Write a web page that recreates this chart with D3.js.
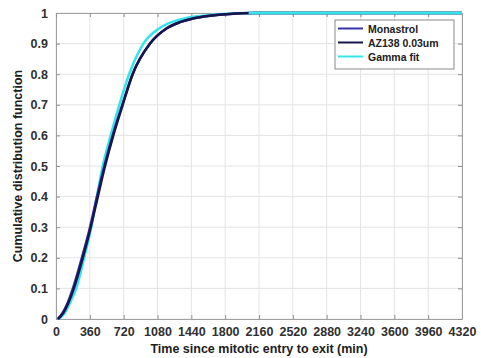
<!DOCTYPE html>
<html>
<head>
<meta charset="utf-8">
<script src="https://cdn.jsdelivr.net/npm/d3@7"></script>
<style>
  html, body { margin: 0; padding: 0; background: #fff; }
  svg { display: block; font-family: "Liberation Sans", Arial, sans-serif; }
</style>
</head>
<body>
<svg id="chart" width="481" height="358"></svg>
<script>
// Time since mitotic entry (min) at which each CDF level is reached
const cdfLevels   = [0, 0.02, 0.05, 0.1, 0.2, 0.3, 0.4, 0.5, 0.6, 0.7, 0.8, 0.9, 0.95, 0.97, 0.983, 0.991, 0.997, 1, 1];
const monastrolT  = [18, 70, 120, 180, 275, 362, 436, 514, 603, 705, 814, 1000, 1178, 1318, 1468, 1638, 1850, 2100, 4320];
const az138T      = [22, 78, 128, 190, 285, 370, 445, 522, 610, 710, 816, 1001, 1180, 1320, 1470, 1640, 1850, 2100, 4320];
const gammaT      = [30, 95, 145, 215, 300, 375, 435, 497, 582, 674, 778, 930, 1100, 1230, 1380, 1560, 1780, 2050, 4320];

const seriesNames  = ["Monastrol", "AZ138 0.03um", "Gamma fit"];
const seriesColors = ["#3434a8", "#16164a", "#34e4ea"];
const xTicks = [0, 360, 720, 1080, 1440, 1800, 2160, 2520, 2880, 3240, 3600, 3960, 4320];
const yTicks = [0, 0.1, 0.2, 0.3, 0.4, 0.5, 0.6, 0.7, 0.8, 0.9, 1];

const svg = d3.select("#chart");
const m = { left: 56, right: 462, top: 13, bottom: 319 };

const x = d3.scaleLinear().domain([0, 4320]).range([m.left, m.right]);
const y = d3.scaleLinear().domain([0, 1]).range([m.bottom, m.top]);

// grid
const grid = svg.append("g");
grid.selectAll("line.vx").data(xTicks).join("line")
  .attr("x1", d => x(d)).attr("x2", d => x(d))
  .attr("y1", m.top).attr("y2", m.bottom)
  .attr("stroke", "#e4e4e4").attr("stroke-width", 1);
grid.selectAll("line.hy").data(yTicks).join("line")
  .attr("y1", d => y(d)).attr("y2", d => y(d))
  .attr("x1", m.left).attr("x2", m.right)
  .attr("stroke", "#e4e4e4").attr("stroke-width", 1);

// axes (ticks inward, box on)
const tickLen = 4;
const xAxis = d3.axisBottom(x).tickValues(xTicks).tickFormat(d3.format("d"))
  .tickSizeInner(-tickLen).tickSizeOuter(0).tickPadding(8);
const yAxis = d3.axisLeft(y).tickValues(yTicks).tickFormat(d => d === 0 || d === 1 ? d : d3.format(".1f")(d))
  .tickSizeInner(-tickLen).tickSizeOuter(0).tickPadding(8);
const xTop = d3.axisTop(x).tickValues(xTicks).tickFormat("").tickSizeInner(-tickLen).tickSizeOuter(0);
const yRight = d3.axisRight(y).tickValues(yTicks).tickFormat("").tickSizeInner(-tickLen).tickSizeOuter(0);

function styleAxis(g) {
  g.select(".domain").attr("stroke", "#a0a0a0");
  g.selectAll(".tick line").attr("stroke", "#909090");
  g.selectAll(".tick text").attr("fill", "#303030")
    .attr("font-size", "12.5px").attr("font-weight", "bold");
}

svg.append("g").attr("transform", `translate(0,${m.bottom})`).call(xAxis).call(styleAxis);
svg.append("g").attr("transform", `translate(${m.left},0)`).call(yAxis).call(styleAxis);
svg.append("g").attr("transform", `translate(0,${m.top})`).call(xTop).call(styleAxis);
svg.append("g").attr("transform", `translate(${m.right},0)`).call(yRight).call(styleAxis);

// curves
const seriesT = [monastrolT, az138T, gammaT];
const line = d3.line()
  .x(d => x(d[0])).y(d => y(d[1]))
  .curve(d3.curveMonotoneX);

const drawOrder = [2, 0, 1];
drawOrder.forEach(i => {
  const pts = seriesT[i].map((t, k) => [t, cdfLevels[k]]);
  svg.append("path")
    .datum(pts)
    .attr("fill", "none")
    .attr("stroke", seriesColors[i])
    .attr("stroke-width", 2.5)
    .attr("stroke-linejoin", "round")
    .attr("d", line);
});
// fitted curve stays visible along the top edge
svg.append("path")
  .datum(gammaT.map((t, k) => [t, cdfLevels[k]]).slice(-2))
  .attr("fill", "none").attr("stroke", seriesColors[2]).attr("stroke-width", 2.5)
  .attr("d", d3.line().x(d => x(d[0])).y(d => y(d[1])));

// axis titles
svg.append("text")
  .attr("x", (m.left + m.right) / 2).attr("y", 353)
  .attr("text-anchor", "middle")
  .attr("font-size", "12.5px").attr("font-weight", "bold").attr("fill", "#202020")
  .text("Time since mitotic entry to exit (min)");
svg.append("text")
  .attr("transform", `translate(22,${(m.top + m.bottom) / 2}) rotate(-90)`)
  .attr("text-anchor", "middle")
  .attr("font-size", "12.5px").attr("font-weight", "bold").attr("fill", "#202020")
  .text("Cumulative distribution function");

// legend
const lg = svg.append("g").attr("transform", "translate(335,20)");
lg.append("rect").attr("width", 119).attr("height", 49)
  .attr("fill", "#fff").attr("stroke", "#8a8a8a").attr("stroke-width", 1);
seriesNames.forEach((name, i) => {
  const ly = 8.5 + i * 14;
  lg.append("line").attr("x1", 3).attr("x2", 28).attr("y1", ly).attr("y2", ly)
    .attr("stroke", seriesColors[i]).attr("stroke-width", 2);
  lg.append("text").attr("x", 33).attr("y", ly + 4)
    .attr("font-size", "10.5px").attr("font-weight", "bold").attr("fill", "#202020")
    .text(name);
});
</script>
</body>
</html>
